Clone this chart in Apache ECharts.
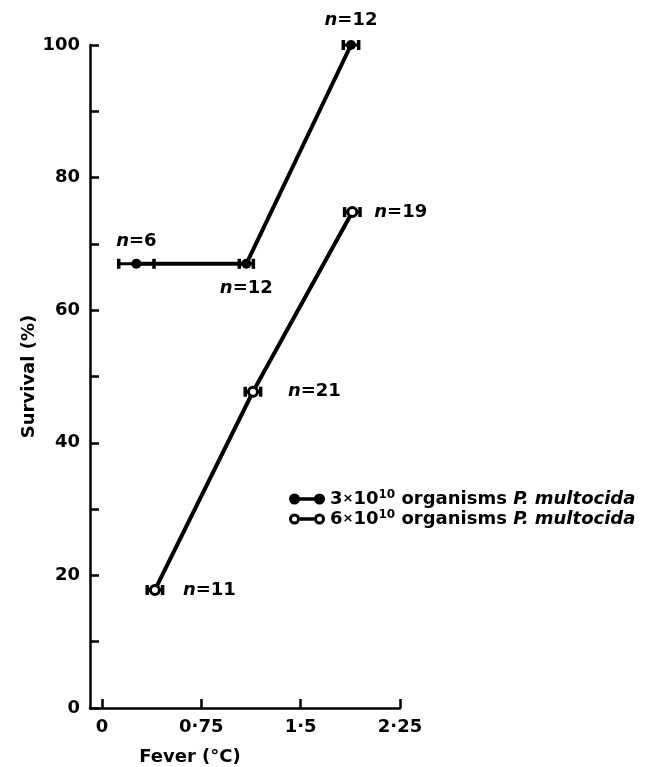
<!DOCTYPE html>
<html>
<head>
<meta charset="utf-8">
<script src="https://cdn.jsdelivr.net/npm/echarts@6/dist/echarts.min.js"></script>
<style>
  html, body { margin: 0; padding: 0; background: #fff; }
  #chart { width: 647px; height: 767px; }
</style>
</head>
<body>
<div id="chart"></div>
<script>
// fever (°C), survival (%), horizontal error (°C), n
const lowDoseFever = [0.26, 1.09, 1.88]
const lowDoseSurvival = [67, 67, 100]
const lowDoseErr = [0.135, 0.055, 0.06]
const lowDoseN = [6, 12, 12]

const highDoseFever = [0.40, 1.14, 1.89]
const highDoseSurvival = [17.8, 47.7, 74.8]
const highDoseErr = [0.06, 0.06, 0.06]
const highDoseN = [11, 21, 19]

const xTicks = [0, 0.75, 1.5, 2.25]
const seriesNames = ['3×10¹⁰ organisms P. multocida', '6×10¹⁰ organisms P. multocida']

const FONT = 'DejaVu Sans, sans-serif'

// where each n= label goes, relative to its point
const lowDoseLabelPos = [
  { position: 'top', distance: 8 },
  { position: 'bottom', distance: 11 },
  { position: 'top', distance: 11 }
]
const highDoseLabelPos = [
  { position: 'right', distance: 22 },
  { position: 'right', distance: 29 },
  { position: 'right', distance: 16 }
]

const txt = { fontFamily: FONT, fontWeight: 'bold', color: '#000' }
const nLabel = { i: { ...txt, fontStyle: 'italic', fontSize: 18 } }

const buildPoints = (xs, ys, ns, pos) => xs.map((x, k) => ({
  value: [x, ys[k]],
  label: {
    show: true,
    position: pos[k].position,
    distance: pos[k].distance,
    formatter: '{i|n}=' + ns[k],
    fontSize: 18,
    ...txt,
    rich: nLabel
  }
}))

const buildErr = (xs, ys, es) => xs.map((x, k) => [x, ys[k], es[k]])

const renderErr = (params, api) => {
  const x = api.value(0)
  const y = api.value(1)
  const e = api.value(2)
  const lo = api.coord([x - e, y])
  const hi = api.coord([x + e, y])
  const style = { fill: '#000' }
  return {
    type: 'group',
    children: [
      { type: 'line', shape: { x1: lo[0], y1: lo[1], x2: hi[0], y2: hi[1] }, style: { stroke: '#000', lineWidth: 3 } },
      { type: 'rect', shape: { x: lo[0] - 1.5, y: lo[1] - 5, width: 3.5, height: 10 }, style },
      { type: 'rect', shape: { x: hi[0] - 2, y: hi[1] - 5, width: 3.5, height: 10 }, style }
    ]
  }
}

// legend icons: two dots joined by a bar
const filledIcon = 'path://M0,5.5 A5.5,5.5 0 1 1 11,5.5 A5.5,5.5 0 1 1 0,5.5 Z M9,3.8 L27,3.8 L27,7.2 L9,7.2 Z M25,5.5 A5.5,5.5 0 1 1 36,5.5 A5.5,5.5 0 1 1 25,5.5 Z'
const openIcon = 'path://M0,5.5 A5.5,5.5 0 1 1 11,5.5 A5.5,5.5 0 1 1 0,5.5 Z M3,5.5 A2.5,2.5 0 1 0 8,5.5 A2.5,2.5 0 1 0 3,5.5 Z M11,3.8 L25,3.8 L25,7.2 L11,7.2 Z M25,5.5 A5.5,5.5 0 1 1 36,5.5 A5.5,5.5 0 1 1 25,5.5 Z M28,5.5 A2.5,2.5 0 1 0 33,5.5 A2.5,2.5 0 1 0 28,5.5 Z'

const chart = echarts.init(document.getElementById('chart'))

const option = {
  backgroundColor: '#fff',
  animation: false,
  textStyle: { fontFamily: FONT, color: '#000' },
  grid: { left: 90, right: 247, top: 45, bottom: 59, outerBoundsMode: 'none', containLabel: false },
  legend: {
    orient: 'vertical',
    left: 284,
    top: 484,
    itemWidth: 36,
    itemHeight: 11,
    itemGap: 0,
    data: [
      { name: seriesNames[0], icon: filledIcon, itemStyle: { color: '#000', borderWidth: 0 } },
      { name: seriesNames[1], icon: openIcon, itemStyle: { color: '#000', borderWidth: 0 } }
    ],
    formatter: (name) => {
      const coef = name.startsWith('3') ? '3' : '6'
      return coef + '{x|×}10{sup|10} organisms {it|P. multocida}'
    },
    textStyle: {
      fontSize: 18,
      lineHeight: 20,
      ...txt,
      rich: {
        x: { ...txt, fontSize: 13, lineHeight: 20 },
        sup: { ...txt, fontSize: 12, lineHeight: 12, verticalAlign: 'bottom', padding: [0, 0, 8, 0] },
        it: { ...txt, fontSize: 18, lineHeight: 20, fontStyle: 'italic' }
      }
    }
  },
  xAxis: {
    type: 'value',
    min: -0.09,
    max: 2.25,
    name: 'Fever (°C)',
    nameLocation: 'middle',
    nameGap: 40,
    nameTextStyle: { fontSize: 18, ...txt, padding: [0, 110, 0, 0] },
    splitLine: { show: false },
    axisLine: { onZero: false, lineStyle: { color: '#000', width: 2.5 } },
    axisTick: { inside: true, length: 9, customValues: xTicks, lineStyle: { color: '#000', width: 2.5 } },
    axisLabel: {
      customValues: xTicks,
      margin: 10,
      fontSize: 18,
      ...txt,
      formatter: (v) => String(v).replace('.', '·')
    }
  },
  yAxis: {
    type: 'value',
    min: 0,
    max: 100,
    interval: 20,
    name: 'Survival (%)',
    nameLocation: 'middle',
    nameGap: 50,
    nameTextStyle: { fontSize: 18, ...txt },
    splitLine: { show: false },
    axisLine: { onZero: false, lineStyle: { color: '#000', width: 2.5 } },
    axisTick: { inside: true, length: 9, lineStyle: { color: '#000', width: 2.5 } },
    minorTick: { show: true, splitNumber: 2, length: 9, lineStyle: { color: '#000', width: 2.5 } },
    axisLabel: { margin: 10, fontSize: 18, ...txt }
  },
  series: [
    {
      name: 'err-low',
      type: 'custom',
      renderItem: renderErr,
      data: buildErr(lowDoseFever, lowDoseSurvival, lowDoseErr),
      z: 3,
      silent: true
    },
    {
      name: 'err-high',
      type: 'custom',
      renderItem: renderErr,
      data: buildErr(highDoseFever, highDoseSurvival, highDoseErr),
      z: 3,
      silent: true
    },
    {
      name: seriesNames[0],
      type: 'line',
      data: buildPoints(lowDoseFever, lowDoseSurvival, lowDoseN, lowDoseLabelPos),
      symbol: 'circle',
      symbolSize: 10,
      itemStyle: { color: '#000' },
      lineStyle: { color: '#000', width: 4 },
      z: 4
    },
    {
      name: seriesNames[1],
      type: 'line',
      data: buildPoints(highDoseFever, highDoseSurvival, highDoseN, highDoseLabelPos),
      symbol: 'circle',
      symbolSize: 9,
      itemStyle: { color: '#fff', borderColor: '#000', borderWidth: 3 },
      lineStyle: { color: '#000', width: 4 },
      z: 4
    }
  ]
}

chart.setOption(option)
</script>
</body>
</html>
